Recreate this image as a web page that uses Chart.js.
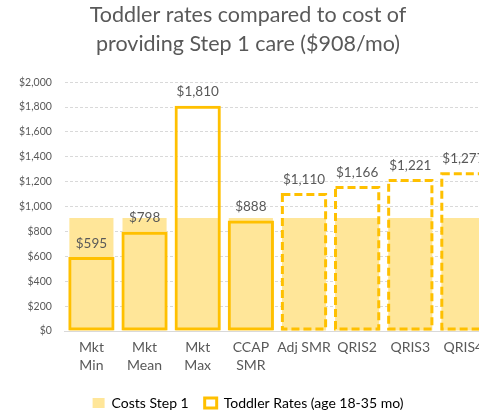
<!DOCTYPE html>
<html>
<head>
<meta charset="utf-8">
<script src="https://cdn.jsdelivr.net/npm/chart.js@4"></script>
<style>
  html, body { margin: 0; padding: 0; background: #fff; overflow: hidden; }
  #wrap { width: 490px; height: 415px; }
</style>
</head>
<body>
<div id="wrap"><canvas id="myChart" width="490" height="415"></canvas></div>
<script>
const categories = [["Mkt", "Min"], ["Mkt", "Mean"], ["Mkt", "Max"], ["CCAP", "SMR"], "Adj SMR", "QRIS2", "QRIS3", "QRIS4"];
const costStep1 = [908, 908, 908, 908, 908, 908, 908, 908];
const toddlerRates = [595, 798, 1810, 888, 1110, 1166, 1221, 1277];
const dashedBars = [false, false, false, false, true, true, true, true];
const yTicks = [0, 200, 400, 600, 800, 1000, 1200, 1400, 1600, 1800, 2000];

const gold = "#FFC000";
const lightGold = "#FFE699";
const textGray = "#595959";
const fontFam = "Lato, 'Open Sans', sans-serif";

const money = v => "$" + Number(v).toLocaleString("en-US");

// dashed outlines + value labels
const barExtras = {
    id: "barExtras",
    afterDatasetsDraw(chart) {
        const ctx = chart.ctx;
        const meta = chart.getDatasetMeta(1);
        ctx.save();
        meta.data.forEach((bar, i) => {
            if (dashedBars[i]) {
                const w = bar.width;
                ctx.strokeStyle = gold;
                ctx.lineWidth = 3;
                ctx.setLineDash([8, 4]);
                ctx.strokeRect(bar.x - w / 2 + 1.5, bar.y + 1.5, w - 3, bar.base - bar.y - 3);
            }
            ctx.setLineDash([]);
            ctx.fillStyle = textGray;
            ctx.font = "13.5px " + fontFam;
            ctx.textAlign = "center";
            ctx.textBaseline = "bottom";
            ctx.fillText(money(toddlerRates[i]), bar.x, bar.y - 7);
        });
        ctx.restore();
    }
};

new Chart(document.getElementById("myChart").getContext("2d"), {
    type: "bar",
    data: {
        labels: categories,
        datasets: [{
            label: "Costs Step 1",
            data: costStep1,
            backgroundColor: lightGold,
            borderWidth: 0,
            barPercentage: 0.83,
            categoryPercentage: 1,
            grouped: false,
            order: 2
        }, {
            label: "Toddler Rates (age 18-35 mo)",
            data: toddlerRates,
            backgroundColor: "rgba(0,0,0,0)",
            borderColor: gold,
            borderWidth: ctx => (ctx.dataIndex !== undefined && dashedBars[ctx.dataIndex]) ? 0 : 3,
            borderSkipped: false,
            barPercentage: 0.87,
            categoryPercentage: 1,
            grouped: false,
            order: 1
        }]
    },
    options: {
        responsive: false,
        animation: false,
        layout: { padding: { left: 6, right: 0, top: 0, bottom: -5 } },
        plugins: {
            title: {
                display: true,
                text: ["Toddler rates compared to cost of", "providing Step 1 care ($908/mo)"],
                color: textGray,
                font: { family: fontFam, size: 21.5, weight: "normal", lineHeight: 1.33 },
                padding: { top: 1, bottom: 24 }
            },
            legend: {
                position: "bottom",
                labels: {
                    color: textGray,
                    font: { family: fontFam, size: 14 },
                    boxWidth: 12,
                    boxHeight: 10,
                    padding: 16,
                    generateLabels: chart => chart.data.datasets.map((ds, i) => ({
                        text: ds.label,
                        fillStyle: i === 0 ? lightGold : "#fff",
                        strokeStyle: i === 0 ? lightGold : gold,
                        lineWidth: i === 0 ? 0 : 3,
                        datasetIndex: i
                    }))
                }
            },
            tooltip: { enabled: false }
        },
        scales: {
            x: {
                grid: { display: false },
                border: { display: true, color: "#d9d9d9" },
                ticks: {
                    color: textGray,
                    font: { family: fontFam, size: 14, lineHeight: 1.25 },
                    maxRotation: 0,
                    autoSkip: false,
                    padding: 0
                },
                afterFit: axis => { axis.height = 49; }
            },
            y: {
                min: 0,
                max: 2000,
                afterBuildTicks: axis => { axis.ticks = yTicks.map(v => ({ value: v })); },
                grid: { color: "#d9d9d9", drawTicks: false },
                border: { display: false, dash: [3, 2] },
                ticks: {
                    color: textGray,
                    font: { family: fontFam, size: 10.5 },
                    padding: 13,
                    callback: v => money(v)
                }
            }
        }
    },
    plugins: [barExtras]
});
</script>
</body>
</html>
